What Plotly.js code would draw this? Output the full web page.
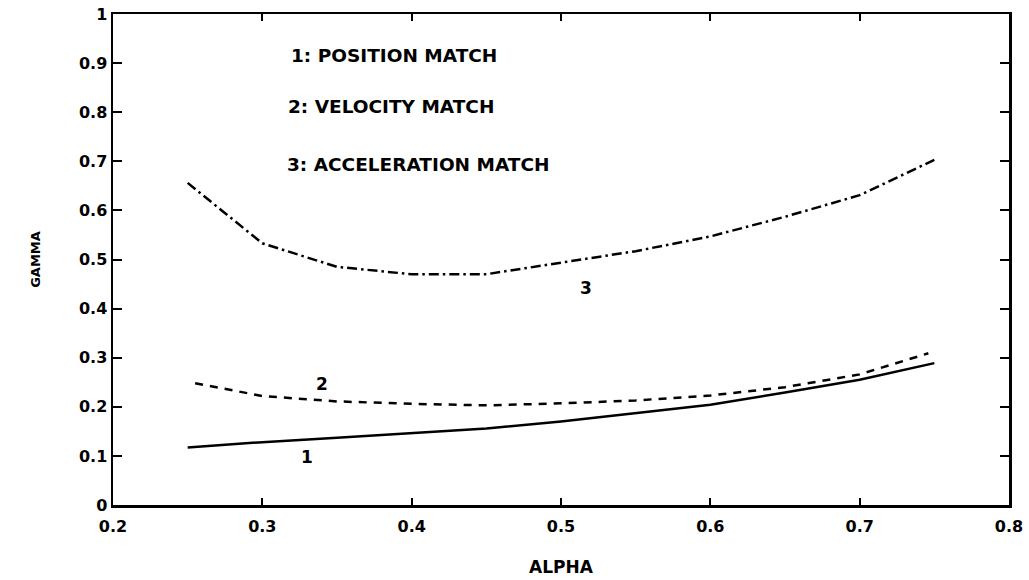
<!DOCTYPE html>
<html>
<head>
<meta charset="utf-8">
<script src="https://cdn.plot.ly/plotly-3.0.1.min.js"></script>
<style>html,body{margin:0;padding:0;background:#fff;}#chart{width:1029px;height:580px;}</style>
</head>
<body>
<div id="chart"></div>
<script>
// Data
const alpha = [0.25, 0.30, 0.35, 0.40, 0.45, 0.50, 0.55, 0.60, 0.65, 0.70, 0.75];
const alphaVel = [0.255, 0.30, 0.35, 0.40, 0.45, 0.50, 0.55, 0.60, 0.65, 0.70, 0.746];
const gammaPosition = [0.117, 0.128, 0.137, 0.146, 0.156, 0.170, 0.187, 0.204, 0.229, 0.255, 0.289];
const gammaVelocity = [0.248, 0.222, 0.211, 0.206, 0.203, 0.207, 0.213, 0.223, 0.240, 0.266, 0.309];
const gammaAcceleration = [0.656, 0.533, 0.485, 0.470, 0.470, 0.494, 0.517, 0.547, 0.587, 0.631, 0.703];

const legendLines = ["1: POSITION MATCH", "2: VELOCITY MATCH", "3: ACCELERATION MATCH"];
const legendX = [0.318, 0.316, 0.315];
const legendY = [0.916, 0.811, 0.694];
const curveLabels = ["1", "2", "3"];
const curveLabelX = [0.330, 0.340, 0.517];
const curveLabelY = [0.098, 0.246, 0.442];

const xTicks = [0.2, 0.3, 0.4, 0.5, 0.6, 0.7, 0.8];
const yTicks = [0, 0.1, 0.2, 0.3, 0.4, 0.5, 0.6, 0.7, 0.8, 0.9, 1];

const FONT = "DejaVu Sans, Liberation Sans, Arial, sans-serif";

const traces = [
  {x: alpha, y: gammaPosition, mode: "lines", line: {color: "#000", width: 2.5}, name: "1"},
  {x: alphaVel, y: gammaVelocity, mode: "lines", line: {color: "#000", width: 2.5, dash: "8px,7px"}, name: "2"},
  {x: alpha, y: gammaAcceleration, mode: "lines", line: {color: "#000", width: 2.5, dash: "10px,4px,2.5px,4px"}, name: "3"}
];

const annotations = [];
legendLines.forEach((t, i) => annotations.push({
  x: legendX[i], y: legendY[i], xref: "x", yref: "y", text: t, showarrow: false,
  xanchor: "left", yanchor: "middle", font: {family: FONT, size: 18.5, color: "#000", weight: "bold"}
}));
curveLabels.forEach((t, i) => annotations.push({
  x: curveLabelX[i], y: curveLabelY[i], xref: "x", yref: "y", text: t, showarrow: false,
  xanchor: "center", yanchor: "middle", font: {family: FONT, size: 17, color: "#000", weight: "bold"}
}));

const layout = {
  width: 1029, height: 580,
  margin: {l: 113, r: 20, t: 14, b: 75},
  paper_bgcolor: "#fff", plot_bgcolor: "#fff",
  showlegend: false,
  font: {family: FONT, color: "#000"},
  xaxis: {
    range: [0.2, 0.8], tickvals: xTicks, ticktext: xTicks.map(v => v.toFixed(1)),
    showgrid: false, zeroline: false, showline: true, mirror: "ticks", linecolor: "#000", linewidth: 2.5,
    ticks: "inside", ticklen: 7, tickwidth: 2, tickcolor: "#000", ticklabelstandoff: 5,
    tickfont: {family: FONT, size: 16, weight: "bold"},
    title: {text: "ALPHA", font: {family: FONT, size: 17, weight: "bold"}, standoff: 27},
    automargin: false
  },
  yaxis: {
    range: [0, 1], tickvals: yTicks, ticktext: yTicks.map(v => v === 0 ? "0" : (v === 1 ? "1" : v.toFixed(1))),
    showgrid: false, zeroline: false, showline: true, mirror: "ticks", linecolor: "#000", linewidth: 2.5,
    ticks: "inside", ticklen: 9, tickwidth: 2, tickcolor: "#000",
    tickfont: {family: FONT, size: 16, weight: "bold"},
    title: {text: "GAMMA", font: {family: FONT, size: 13, weight: "bold"}, standoff: 36},
    automargin: false
  },
  annotations: annotations
};

Plotly.newPlot("chart", traces, layout, {displayModeBar: false, staticPlot: true});
</script>
</body>
</html>
